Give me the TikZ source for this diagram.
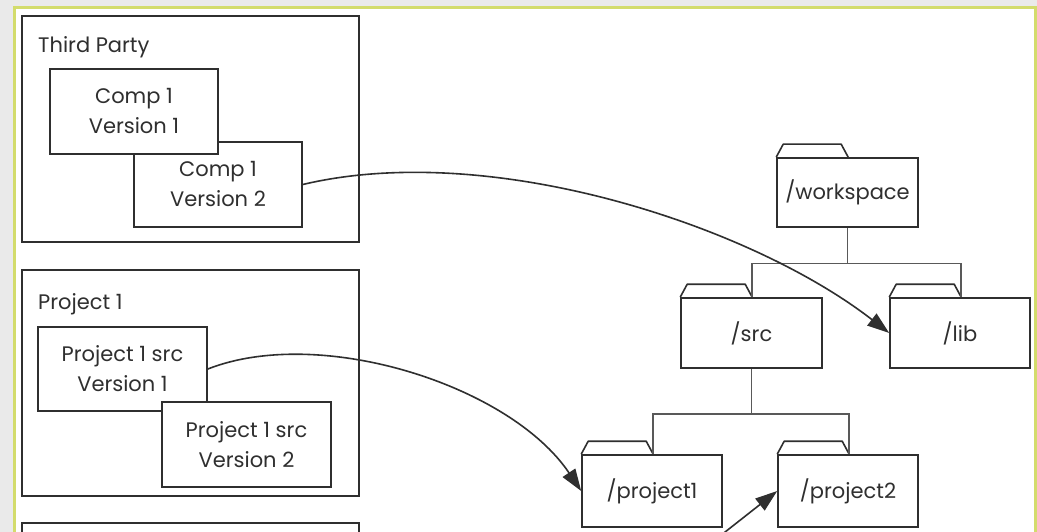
\documentclass[tikz,border=0pt]{standalone}
\usepackage{fontspec}
\setmainfont{Poppins}
\usetikzlibrary{arrows.meta}
\definecolor{ink}{HTML}{2F2F2F}
\definecolor{pagegray}{HTML}{EAEAEA}
\definecolor{framegreen}{HTML}{D3DC6C}
\tikzset{
  txt/.style={text=ink, font=\fontsize{21}{30}\selectfont},
  group/.style={draw=ink, line width=1.7pt},
  card/.style={draw=ink, fill=white, line width=1.6pt, align=center, inner sep=0pt, txt},
  folder/.style={draw=ink, fill=white, line width=1.6pt, align=center, inner sep=0pt, txt},
  tabline/.style={draw=ink, line width=1.6pt, line join=round},
  tree/.style={draw=ink!80, line width=1.6pt},
  link/.style={draw=ink, line width=1.6pt, -{Triangle[length=22pt,width=15pt]}},
}
\begin{document}
\begin{tikzpicture}[x=1pt,y=-1pt]
\useasboundingbox (0,0) rectangle (1037,532);
% page and frame
\fill[pagegray] (0,0) rectangle (1037,532);
\fill[white] (14,8) rectangle (1037,532);
\draw[framegreen, line width=3pt] (14,533) -- (14,8) -- (1035.5,8) -- (1035.5,533);

\begin{scope}
\clip (15.5,9.5) rectangle (1034,532);

% third party group
\node[group, minimum width=337pt, minimum height=226pt] (tp) at (190.5,129) {};
\node[txt, anchor=base west, inner sep=0pt] (tpname) at (38,53) {Third Party};
\node[card, minimum width=168pt, minimum height=85pt] (c1v2) at (218,184.5) {Comp 1\\Version 2};
\node[card, minimum width=168pt, minimum height=85pt] (c1v1) at (134,111.5) {Comp 1\\Version 1};

% project 1 group
\node[group, minimum width=337pt, minimum height=226pt] (p1) at (190.5,383) {};
\node[txt, anchor=base west, inner sep=0pt] (p1name) at (38,309) {Project 1};
\node[card, minimum width=169pt, minimum height=84pt] (p1v1) at (122.5,369) {Project 1 src\\Version 1};
\node[card, minimum width=169pt, minimum height=85pt] (p1v2) at (246.5,444.5) {Project 1 src\\Version 2};

% next group, running off the bottom edge
\draw[group] (22,560) -- (22,523) -- (359,523) -- (359,560);

% folder tree
\node[folder, minimum width=141pt, minimum height=69pt] (ws) at (847.5,192.5) {/workspace};
\node[folder, minimum width=141pt, minimum height=70pt] (src) at (751.5,333) {/src};
\node[folder, minimum width=140pt, minimum height=70pt] (lib) at (960,333) {/lib};
\node[folder, minimum width=140pt, minimum height=72pt] (pj1) at (652,491) {/project1};
\node[folder, minimum width=140pt, minimum height=72pt] (pj2) at (848,491) {/project2};

\foreach \f in {ws,src,lib,pj1,pj2}{
  \draw[tabline] (\f.north west) -- ++(7,-13) -- ++(58,0) -- ++(7,13) coordinate (\f-tab);
}

\draw[tree] (ws.south) -- ++(0,35.5) coordinate (ws-fork);
\draw[tree] (src-tab) |- (ws-fork) -| (lib-tab);
\draw[tree] (src.south) -- ++(0,45) coordinate (src-fork);
\draw[tree] (pj1-tab) |- (src-fork) -| (pj2-tab);

% links into the workspace
\draw[link] (c1v2.east) .. controls (490,140) and (750,225) .. (lib.west);
\draw[link] (p1v1.east) .. controls (320,325) and (510,385) .. (pj1.west);
\coordinate (p2src) at (720,536);
\draw[link] (p2src) -- (pj2.west);
\end{scope}
\end{tikzpicture}
\end{document}
